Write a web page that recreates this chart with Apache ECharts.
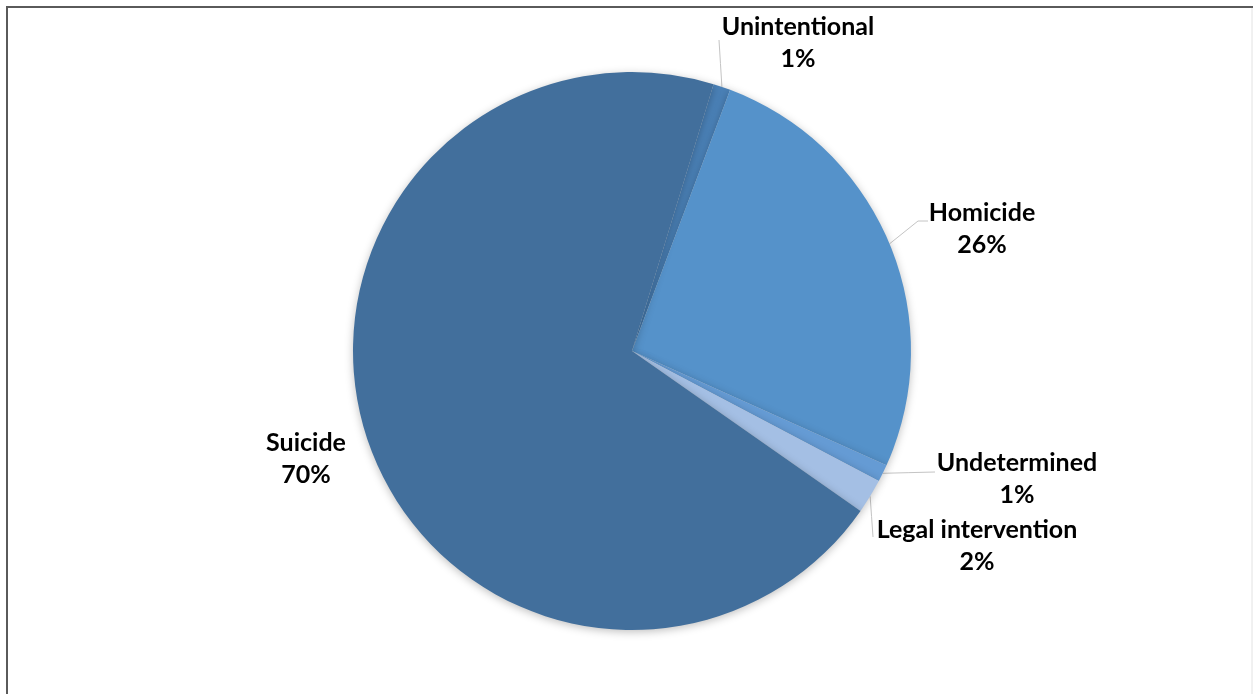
<!DOCTYPE html>
<html>
<head>
<meta charset="utf-8">
<script src="https://cdn.jsdelivr.net/npm/echarts@6/dist/echarts.min.js"></script>
<style>
  html, body { margin: 0; padding: 0; background: #fff; }
  #chart { width: 1253px; height: 694px; }
</style>
</head>
<body>
<div id="chart"></div>
<script>
// Manner of death, share of total (%)
const categories = ['Unintentional', 'Homicide', 'Undetermined', 'Legal intervention', 'Suicide'];
const shares = [1, 26, 1, 2, 70];
const sliceColors = ['#4a80b6', '#5592ca', '#659bd4', '#a4bfe4', '#426f9c'];

// Where each label block sits (centre of the two-line block) and how its leader line bends
const labelSpots = {
  'Unintentional':      { x: 798, y: 43,  line: 'up',    end: [719, 40] },
  'Homicide':           { x: 982, y: 229, line: 'elbow', bend: [918, 221], end: [928, 221] },
  'Undetermined':       { x: 1017, y: 479, line: 'flat', end: [935, 472] },
  'Legal intervention': { x: 977, y: 546, line: 'down',  end: [873, 537] },
  'Suicide':            { x: 306, y: 459, line: 'none' }
};

const chart = echarts.init(document.getElementById('chart'), null, { renderer: 'canvas' });

chart.setOption({
  animation: false,
  backgroundColor: '#ffffff',
  graphic: [
    { type: 'line', shape: { x1: 7, y1: 7, x2: 1253, y2: 7 }, style: { stroke: '#5a5a5a', lineWidth: 2 } },
    { type: 'line', shape: { x1: 7, y1: 6, x2: 7, y2: 694 }, style: { stroke: '#5a5a5a', lineWidth: 2 } },
    { type: 'line', shape: { x1: 1252, y1: 8, x2: 1252, y2: 694 }, style: { stroke: '#e2e2e2', lineWidth: 1 } }
  ],
  series: [{
    type: 'pie',
    center: [632, 351],
    radius: [0, 279],
    startAngle: 73,
    clockwise: true,
    silent: true,
    itemStyle: {
      borderWidth: 0,
      shadowBlur: 8,
      shadowColor: 'rgba(0,0,0,0.25)',
      shadowOffsetY: 2
    },
    label: {
      show: true,
      position: 'outside',
      formatter: p => p.name + '\n' + p.value + '%',
      fontFamily: 'Lato',
      fontWeight: 'bold',
      fontSize: 25,
      lineHeight: 32,
      color: '#000',
      align: 'center'
    },
    labelLine: {
      show: true,
      length: 20,
      length2: 10,
      lineStyle: { color: '#c4c4c4', width: 1 }
    },
    labelLayout: function (params) {
      const name = categories[params.dataIndex];
      const spot = labelSpots[name];
      const start = params.labelLinePoints ? params.labelLinePoints[0] : null;
      const out = { x: spot.x, y: spot.y, align: 'center', verticalAlign: 'middle' };
      if (start && spot.line !== 'none') {
        if (spot.line === 'elbow') {
          out.labelLinePoints = [start, spot.bend, spot.end];
        } else {
          const mid = [(start[0] + spot.end[0]) / 2, (start[1] + spot.end[1]) / 2];
          out.labelLinePoints = [start, mid, spot.end];
        }
      }
      return out;
    },
    data: categories.map((name, i) => ({
      name: name,
      value: shares[i],
      itemStyle: { color: sliceColors[i] },
      labelLine: { show: labelSpots[name].line !== 'none' }
    }))
  }]
});
</script>
</body>
</html>
